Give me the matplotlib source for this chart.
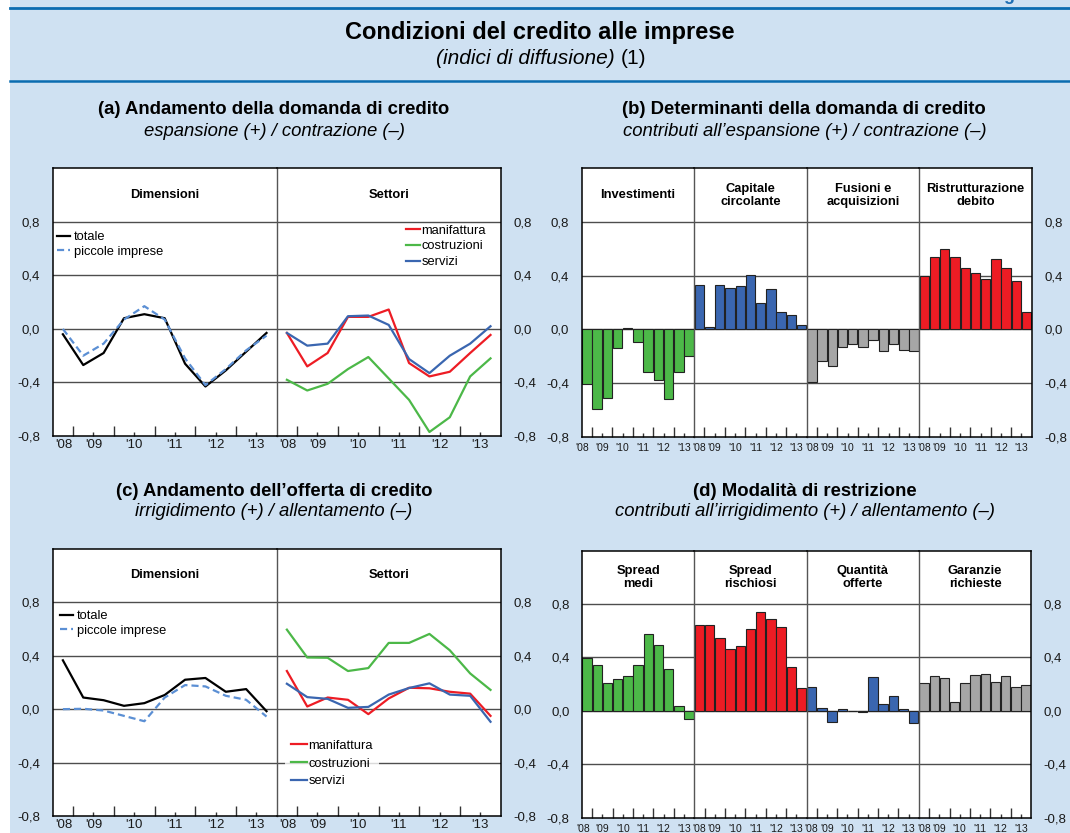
import matplotlib.pyplot as plt
from matplotlib.lines import Line2D
from matplotlib.patches import Rectangle
from matplotlib.transforms import blended_transform_factory

plt.rcParams['font.family'] = ['Liberation Sans', 'DejaVu Sans']

W, H = 1070, 833

# ---- data (half-years, 2008 H2 - 2013 H2) ----
years = ["'08", "'09", "'10", "'11", "'12", "'13"]
y_ticks = [-0.8, -0.4, 0.0, 0.4, 0.8]

# (a) domanda di credito
dom_totale = [-0.04, -0.27, -0.18, 0.08, 0.11, 0.08, -0.26, -0.43, -0.31, -0.17, -0.03]
dom_piccole = [0.00, -0.20, -0.11, 0.07, 0.17, 0.07, -0.22, -0.42, -0.30, -0.16, -0.05]
dom_manifattura = [-0.03, -0.28, -0.18, 0.09, 0.09, 0.145, -0.255, -0.355, -0.32, -0.18, -0.045]
dom_costruzioni = [-0.38, -0.46, -0.41, -0.30, -0.21, -0.37, -0.53, -0.77, -0.66, -0.355, -0.22]
dom_servizi = [-0.03, -0.125, -0.11, 0.095, 0.10, 0.03, -0.225, -0.33, -0.20, -0.11, 0.02]

# (b) determinanti della domanda
det_names = ['Investimenti', 'Capitale\ncircolante', 'Fusioni e\nacquisizioni', 'Ristrutturazione\ndebito']
det_investimenti = [-0.405, -0.593, -0.509, -0.138, 0.007, -0.094, -0.316, -0.375, -0.519, -0.316, -0.198]
det_capitale = [0.333, 0.017, 0.333, 0.306, 0.326, 0.407, 0.20, 0.301, 0.126, 0.106, 0.035]
det_fusioni = [-0.39, -0.235, -0.272, -0.133, -0.111, -0.131, -0.081, -0.16, -0.109, -0.156, -0.165]
det_ristrutt = [0.40, 0.541, 0.60, 0.541, 0.459, 0.417, 0.373, 0.526, 0.459, 0.36, 0.126]

# (c) offerta di credito
off_totale = [0.365, 0.087, 0.067, 0.025, 0.045, 0.106, 0.22, 0.233, 0.13, 0.15, -0.015]
off_piccole = [0.0, 0.003, -0.01, -0.05, -0.09, 0.087, 0.18, 0.17, 0.10, 0.07, -0.055]
off_manifattura = [0.285, 0.02, 0.087, 0.07, -0.037, 0.08, 0.16, 0.156, 0.13, 0.116, -0.05]
off_costruzioni = [0.594, 0.386, 0.384, 0.285, 0.307, 0.495, 0.495, 0.562, 0.44, 0.267, 0.144]
off_servizi = [0.19, 0.09, 0.077, 0.01, 0.017, 0.109, 0.158, 0.193, 0.109, 0.10, -0.094]

# (d) modalita di restrizione
mod_names = ['Spread\nmedi', 'Spread\nrischiosi', 'Quantità\nofferte', 'Garanzie\nrichieste']
mod_spread_medi = [0.395, 0.342, 0.208, 0.236, 0.263, 0.342, 0.571, 0.494, 0.31, 0.037, -0.06]
mod_spread_risch = [0.643, 0.645, 0.541, 0.459, 0.481, 0.613, 0.739, 0.69, 0.625, 0.33, 0.169]
mod_quantita = [0.181, 0.02, -0.087, 0.015, -0.005, -0.012, 0.25, 0.047, 0.109, 0.012, -0.092]
mod_garanzie = [0.211, 0.263, 0.248, 0.067, 0.211, 0.266, 0.273, 0.213, 0.263, 0.176, 0.189]

RED = '#ed1c24'
GREEN = '#4cb848'
BLUE = '#3a66b0'
GREY = '#a6a6a6'
DASH = '#5b8fd4'
BG = '#cfe1f2'
DARKBLUE = '#0b6cb0'

fig = plt.figure(figsize=(W / 100, H / 100), dpi=100, facecolor='white')

# background and header
fig.patches.append(Rectangle((10 / W, 0), 1, 1, transform=fig.transFigure,
                             facecolor=BG, edgecolor='none', zorder=-10))
for yy, lw in [(8, 2.0), (81, 1.8)]:
    fig.lines.append(Line2D([10 / W, 1], [1 - yy / H, 1 - yy / H], transform=fig.transFigure,
                            color=DARKBLUE, lw=lw))
# figure number, cut by the top edge as in the original page
fig.text(1068 / W, 1.0, 'Figura 13', ha='right', va='baseline', color='#1f6fb4',
         fontsize=13, fontweight='bold')


def ftext(x, y, s, **kw):
    fig.text(x / W, 1 - y / H, s, **kw)


ftext(540, 32, 'Condizioni del credito alle imprese', ha='center', va='center',
      fontsize=17, fontweight='bold')
ftext(615, 59, '(indici di diffusione)', ha='right', va='center', fontsize=15, style='italic')
ftext(621, 59, '(1)', ha='left', va='center', fontsize=15)

ftext(274, 110, '(a) Andamento della domanda di credito', ha='center', va='center',
      fontsize=13.3, fontweight='bold')
ftext(274, 131, 'espansione (+) / contrazione (–)', ha='center', va='center',
      fontsize=13.3, style='italic')
ftext(804, 110, '(b) Determinanti della domanda di credito', ha='center', va='center',
      fontsize=13.3, fontweight='bold')
ftext(805, 131, 'contributi all’espansione (+) / contrazione (–)', ha='center', va='center',
      fontsize=13.3, style='italic')
ftext(274, 491, '(c) Andamento dell’offerta di credito', ha='center', va='center',
      fontsize=13.3, fontweight='bold')
ftext(274, 512, 'irrigidimento (+) / allentamento (–)', ha='center', va='center',
      fontsize=13.3, style='italic')
ftext(805, 491, '(d) Modalità di restrizione', ha='center', va='center',
      fontsize=13.3, fontweight='bold')
ftext(805, 512, 'contributi all’irrigidimento (+) / allentamento (–)', ha='center', va='center',
      fontsize=13.3, style='italic')


def fmt(v):
    return ('%.1f' % v).replace('.', ',')


def make_row(left, top, bottom, width, n, bars):
    axes = []
    for k in range(n):
        ax = fig.add_axes([(left + k * width) / W, 1 - bottom / H, width / W, (bottom - top) / H])
        ax.set_facecolor('white')
        ax.set_xlim(-0.5, 10.5)
        ax.set_ylim(-0.8, 1.2)
        for v in [-0.4, 0.0, 0.4, 0.8]:
            ax.axhline(v, color='#4d4d4d', lw=1.0, zorder=1)
        for s in ['top', 'bottom']:
            ax.spines[s].set_color('black')
            ax.spines[s].set_linewidth(1.1)
        ax.spines['left'].set_color('black' if k == 0 else '#555555')
        ax.spines['left'].set_linewidth(1.1 if k == 0 else 1.0)
        ax.spines['right'].set_visible(k == n - 1)
        ax.spines['right'].set_color('black')
        ax.spines['right'].set_linewidth(1.1)
        ax.set_yticks(y_ticks)
        ax.set_yticklabels([fmt(v) for v in y_ticks])
        ax.tick_params(axis='y', length=0, left=False, right=False,
                       labelleft=(k == 0), labelright=(k == n - 1),
                       labelsize=9.5, pad=9, labelcolor='#1a1a1a')
        ax.set_xticks([0.5, 2.5, 4.5, 6.5, 8.5])
        ax.set_xticks([1.5, 3.5, 5.5, 7.5, 9.5], minor=True)
        ax.tick_params(axis='x', which='major', direction='in', length=7.2, width=1,
                       color='#333333', labelbottom=False)
        ax.tick_params(axis='x', which='minor', direction='in', length=3.2, width=1,
                       color='#333333', labelbottom=False)
        trans = blended_transform_factory(ax.transData, ax.transAxes)
        if bars:
            pos = [(-0.4 if k == 0 else 0.0), 1.5, 3.5, 5.5, 7.5, 9.5]
            off, fs = -11.5 / (bottom - top), 7.5
        else:
            pos = [0.05, 1.5, 3.5, 5.5, 7.5, 9.5]
            off, fs = -9 / (bottom - top), 9.5
        for p, lab in zip(pos, years):
            ax.text(p, off, lab, transform=trans, ha='center', va='center',
                    fontsize=fs, color='#1a1a1a', clip_on=False)
        axes.append(ax)
    return axes


def header(ax, name):
    ax.text(5, 1.0, name, ha='center', va='center', fontsize=9.3, fontweight='bold',
            linespacing=1.1, zorder=5)


x = list(range(11))

# ---- (a) ----
a1, a2 = make_row(52.7, 168.3, 436.0, 224.0, 2, bars=False)
header(a1, 'Dimensioni')
header(a2, 'Settori')
a1.plot(x, dom_totale, color='black', lw=1.6, zorder=3, label='totale')
a1.plot(x, dom_piccole, color=DASH, lw=1.6, ls=(0, (3.2, 1.8)), zorder=3, label='piccole imprese')
a2.plot(x, dom_manifattura, color=RED, lw=1.6, zorder=3, label='manifattura')
a2.plot(x, dom_costruzioni, color=GREEN, lw=1.6, zorder=3, label='costruzioni')
a2.plot(x, dom_servizi, color=BLUE, lw=1.6, zorder=3, label='servizi')
a1.legend(loc='upper left', bbox_to_anchor=(0.02, 0.765), frameon=False, fontsize=9.3,
          handlelength=1.0, handletextpad=0.3, labelspacing=0.2, borderpad=0, borderaxespad=0)
a2.legend(loc='upper left', bbox_to_anchor=(0.575, 0.79), frameon=False, fontsize=9.3,
          handlelength=1.15, handletextpad=0.1, labelspacing=0.3, borderpad=0, borderaxespad=0)

# ---- (b) ----
b_axes = make_row(581.7, 168.3, 436.7, 112.5, 4, bars=True)
for ax, name, vals, col in zip(b_axes, det_names,
                               [det_investimenti, det_capitale, det_fusioni, det_ristrutt],
                               [GREEN, BLUE, GREY, RED]):
    header(ax, name)
    ax.bar(x, vals, width=0.92, color=col, edgecolor='#222222', linewidth=0.8, zorder=2)

# ---- (c) ----
c1, c2 = make_row(52.7, 548.5, 816.3, 224.0, 2, bars=False)
header(c1, 'Dimensioni')
header(c2, 'Settori')
c1.plot(x, off_totale, color='black', lw=1.6, zorder=3, label='totale')
c1.plot(x, off_piccole, color=DASH, lw=1.6, ls=(0, (3.2, 1.8)), zorder=3, label='piccole imprese')
c2.plot(x, off_manifattura, color=RED, lw=1.6, zorder=3, label='manifattura')
c2.plot(x, off_costruzioni, color=GREEN, lw=1.6, zorder=3, label='costruzioni')
c2.plot(x, off_servizi, color=BLUE, lw=1.6, zorder=3, label='servizi')
c1.legend(loc='upper left', bbox_to_anchor=(0.033, 0.77), frameon=False, fontsize=9.3,
          handlelength=1.0, handletextpad=0.3, labelspacing=0.2, borderpad=0, borderaxespad=0)
leg = c2.legend(loc='upper left', bbox_to_anchor=(0.037, 0.31), frameon=True, fontsize=9.3,
                handlelength=1.2, handletextpad=0.1, labelspacing=0.45, borderpad=0.5,
                borderaxespad=0, fancybox=False)
leg.get_frame().set_facecolor('white')
leg.get_frame().set_edgecolor('none')
leg.set_zorder(4)

# ---- (d) ----
d_axes = make_row(582.0, 550.5, 817.5, 112.3, 4, bars=True)
for ax, name, vals, col in zip(d_axes, mod_names,
                               [mod_spread_medi, mod_spread_risch, mod_quantita, mod_garanzie],
                               [GREEN, RED, BLUE, GREY]):
    header(ax, name)
    ax.bar(x, vals, width=0.92, color=col, edgecolor='#222222', linewidth=0.8, zorder=2)

fig.savefig('out.png', dpi=100, facecolor='white')
plt.close(fig)
